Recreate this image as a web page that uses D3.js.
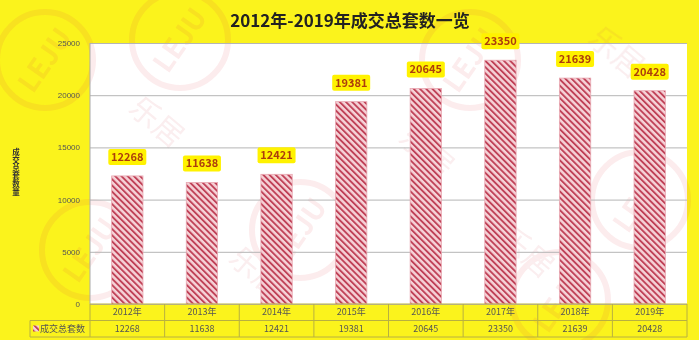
<!DOCTYPE html>
<meta charset="utf-8">
<script src="https://d3js.org/d3.v7.min.js"></script>
<style>
body { margin: 0; background: #fbf31c; }
svg { display: block; font-family: 'Noto Sans CJK SC', 'Noto Sans', sans-serif; }
.tick text { fill: #555; font-size: 8px; }
.cell text { font-size: 9px; fill: #555; }
</style>
<svg width="699" height="340"></svg>
<script>
const years = ['2012年', '2013年', '2014年', '2015年', '2016年', '2017年', '2018年', '2019年'];
const deals = [12268, 11638, 12421, 19381, 20645, 23350, 21639, 20428];
const yTicks = [0, 5000, 10000, 15000, 20000, 25000];
const seriesName = '成交总套数';
const title = '2012年-2019年成交总套数一览';

const svg = d3.select('svg');
const W = 699, H = 340;
const pLeft = 90, pRight = 687, pTop = 43, pBottom = 304;

svg.append('rect').attr('width', W).attr('height', H).attr('fill', '#fbf31c');

// stripes
const defs = svg.append('defs');
const pat = defs.append('pattern')
  .attr('id', 'stripe')
  .attr('patternUnits', 'userSpaceOnUse')
  .attr('width', 4.4).attr('height', 4.4)
  .attr('patternTransform', 'rotate(-45)');
pat.append('rect').attr('width', 4.4).attr('height', 4.4).attr('fill', '#f6d3d8');
pat.append('rect').attr('width', 1.9).attr('height', 4.4).attr('fill', '#c04258');

svg.append('rect')
  .attr('x', pLeft).attr('y', pTop)
  .attr('width', pRight - pLeft).attr('height', pBottom - pTop)
  .attr('fill', '#fff');

const x = d3.scaleBand().domain(years).range([pLeft, pRight]).paddingInner(0.58).paddingOuter(0.29);
const xb = d3.scaleBand().domain(years).range([pLeft, pRight]);
const y = d3.scaleLinear().domain([0, 25000]).range([pBottom, pTop]);

// watermark
const wm = svg.append('g').attr('opacity', 0.1);
[[45, 60], [180, 40], [300, 230], [470, 60], [640, 200], [90, 250], [560, 300]].forEach(([cx, cy]) => {
  wm.append('circle').attr('cx', cx).attr('cy', cy).attr('r', 48)
    .attr('fill', 'none').attr('stroke', '#e0404a').attr('stroke-width', 6);
  wm.append('text').attr('x', cx).attr('y', cy + 10)
    .attr('text-anchor', 'middle').attr('font-size', 28).attr('font-weight', 700)
    .attr('fill', '#e0404a').attr('transform', `rotate(-55,${cx},${cy})`).text('LEJU');
});
[[150, 130], [420, 160], [610, 60], [250, 280], [520, 260]].forEach(([tx, ty]) => {
  wm.append('text').attr('x', tx).attr('y', ty)
    .attr('text-anchor', 'middle').attr('font-size', 30)
    .attr('fill', '#d05060').attr('transform', `rotate(40,${tx},${ty})`).text('乐居');
});

// grid
const yAxis = svg.append('g')
  .attr('transform', `translate(${pLeft},0)`)
  .call(d3.axisLeft(y).tickValues(yTicks).tickSize(-(pRight - pLeft)).tickPadding(10).tickFormat(d3.format('d')));
yAxis.select('.domain').remove();
yAxis.selectAll('.tick line').attr('stroke', '#b5b5b5');

svg.append('line').attr('x1', pLeft).attr('x2', pLeft).attr('y1', pTop).attr('y2', pBottom).attr('stroke', '#aaa');

// bars
svg.selectAll('.bar')
  .data(deals)
  .join('rect')
  .attr('class', 'bar')
  .attr('x', (d, i) => x(years[i]))
  .attr('y', d => y(d))
  .attr('width', x.bandwidth())
  .attr('height', d => y(0) - y(d))
  .attr('fill', 'url(#stripe)')
  .attr('stroke', '#e9a8b2')
  .attr('stroke-width', 0.8);

// value labels
const lab = svg.selectAll('.lab')
  .data(deals)
  .join('g')
  .attr('class', 'lab')
  .attr('transform', (d, i) => `translate(${x(years[i]) + x.bandwidth() / 2},${y(d) - 19})`);
lab.append('rect')
  .attr('x', -19).attr('y', -8).attr('width', 38).attr('height', 16).attr('rx', 2)
  .attr('fill', '#fff200');
lab.append('text')
  .attr('text-anchor', 'middle').attr('dy', '0.35em')
  .attr('font-size', 11).attr('font-weight', 700).attr('fill', '#ad3d0c')
  .text(d => d);

// table
const rowH = 16.5;
const tbl = svg.append('g');
const lc = '#b8b040';
tbl.append('line').attr('x1', pLeft).attr('x2', pRight).attr('y1', pBottom).attr('y2', pBottom).attr('stroke', lc);
tbl.append('line').attr('x1', 30).attr('x2', pRight).attr('y1', pBottom + rowH).attr('y2', pBottom + rowH).attr('stroke', lc);
tbl.append('line').attr('x1', 30).attr('x2', pRight).attr('y1', pBottom + 2 * rowH).attr('y2', pBottom + 2 * rowH).attr('stroke', lc);
tbl.append('line').attr('x1', 30).attr('x2', 30).attr('y1', pBottom + rowH).attr('y2', pBottom + 2 * rowH).attr('stroke', lc);
xb.domain().forEach(d => {
  tbl.append('line').attr('x1', xb(d)).attr('x2', xb(d)).attr('y1', pBottom).attr('y2', pBottom + 2 * rowH).attr('stroke', lc);
});
tbl.append('line').attr('x1', pRight).attr('x2', pRight).attr('y1', pBottom).attr('y2', pBottom + 2 * rowH).attr('stroke', lc);

const cells = tbl.selectAll('.cell')
  .data(years)
  .join('g')
  .attr('class', 'cell')
  .attr('transform', d => `translate(${xb(d) + xb.bandwidth() / 2},${pBottom})`);
cells.append('text').attr('text-anchor', 'middle').attr('y', rowH / 2).attr('dy', '0.35em').text(d => d);
cells.append('text').attr('text-anchor', 'middle').attr('y', rowH * 1.5).attr('dy', '0.35em').text((d, i) => deals[i]);

tbl.append('rect').attr('x', 33).attr('y', pBottom + rowH + 5).attr('width', 6).attr('height', 6).attr('fill', 'url(#stripe)');
tbl.append('text').attr('x', 40).attr('y', pBottom + rowH * 1.5).attr('dy', '0.35em')
  .attr('font-size', 9).attr('fill', '#555').text(seriesName);

// y title, vertical upright characters
svg.append('text')
  .attr('x', 16).attr('y', 148)
  .attr('font-size', 7.5).attr('font-weight', 700).attr('fill', '#333')
  .style('writing-mode', 'vertical-rl')
  .style('text-orientation', 'upright')
  .style('letter-spacing', '0.6px')
  .text(seriesName + '量');

// title
svg.append('text')
  .attr('x', 350).attr('y', 27)
  .attr('text-anchor', 'middle')
  .attr('font-size', 17).attr('font-weight', 700).attr('fill', '#222')
  .text(title);
</script>
